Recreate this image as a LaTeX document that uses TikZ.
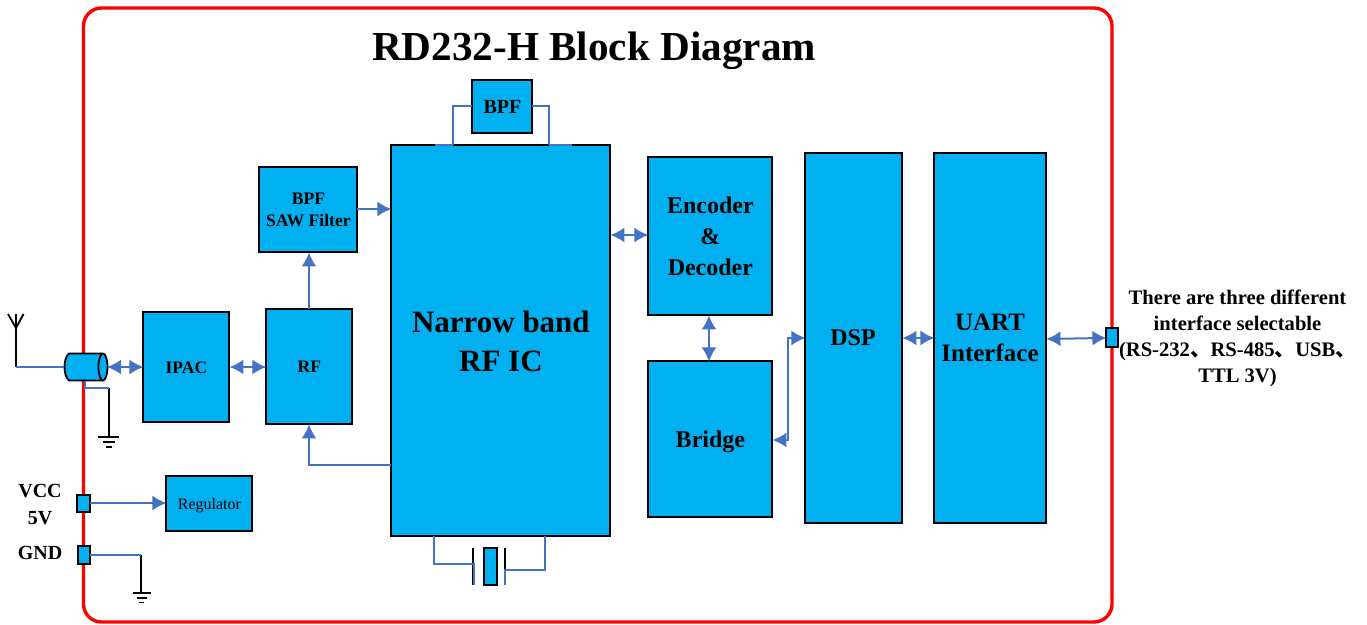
\documentclass[tikz,border=0pt]{standalone}
\usepackage{fontspec}
\setmainfont{Liberation Serif}
\newfontfamily\cjk{Noto Sans CJK SC}
\usetikzlibrary{arrows.meta,calc}
\definecolor{blk}{HTML}{00B0F0}
\definecolor{wire}{HTML}{4472C4}
\tikzset{
  block/.style={draw=black,line width=2pt,fill=blk,inner sep=0pt,outer sep=0pt,align=center,font=\bfseries},
  wireline/.style={draw=wire,line width=2pt},
  arr/.style={wireline,-{Latex[length=14pt,width=15pt]}},
  darr/.style={wireline,{Latex[length=14pt,width=15pt]}-{Latex[length=14pt,width=15pt]}},
  blackline/.style={draw=black,line width=1.8pt},
  label/.style={inner sep=0pt,align=center},
  fs/.style n args={2}{font=\bfseries\fontsize{#1}{#2}\selectfont},
}
\newcommand{\boxnode}[7]{% name, x0,y0,x1,y1, font opts, text
  \node[block,#6,minimum width={#4pt-#2pt},minimum height={#5pt-#3pt},anchor=north west] (#1) at (#2+0.4,#3+0.4) {#7};}
\begin{document}
\begin{tikzpicture}[x=1pt,y=-1pt]
\useasboundingbox (0,0) rectangle (1367,624);
\draw[red,line width=3.4pt,rounded corners=18pt] (83.5,8) rectangle (1112,622);
\node[label,fs={41.2}{44}] (title) at (594,51) {RD232-H Block Diagram};

\boxnode{bpf}{472}{80}{532}{133}{fs={20}{22}}{BPF}
\boxnode{saw}{259}{167}{357}{252}{fs={17.6}{22}}{BPF\\SAW Filter}
\boxnode{ic}{391}{145}{610}{536}{fs={31}{39}}{Narrow band\\RF IC}
\boxnode{enc}{648}{157}{772}{315}{fs={24}{31}}{Encoder\\\&\\Decoder}
\boxnode{bridge}{648}{361}{772}{517}{fs={24}{28},text depth=0pt}{Bridge}
\boxnode{dsp}{805}{153}{902}{523}{fs={24}{28}}{}
\boxnode{uart}{934}{153}{1046}{523}{fs={24}{28}}{}
\boxnode{ipac}{143}{312}{229}{422}{fs={17.5}{22}}{IPAC}
\boxnode{rf}{266}{309}{352}{424}{fs={17.5}{22}}{RF}
\boxnode{reg}{166}{476}{252}{531}{font=\normalfont\fontsize{16}{20}\selectfont,text depth=0pt}{Regulator}
\node[label,fs={24}{28}] (dsptxt) at (853,338) {DSP};
\node[label,fs={25}{31}] (uarttxt) at (990,338) {UART\\Interface};

\boxnode{pvcc}{76.5}{495}{90}{512}{}{}
\boxnode{pgnd}{78}{546}{90}{564}{}{}
\boxnode{puart}{1106}{328}{1118}{347}{}{}

% ---- text
\node[label,fs={20}{27}] (vcc) at (40,505) {VCC\\5V};
\node[label,fs={20}{24}] (gnd) at (40,552.5) {GND};
\node[label,fs={20.6}{26}] (iface) at (1237.5,338) {There are three different\\interface selectable\\(RS-232{\cjk 、}RS-485{\cjk 、}USB{\cjk 、}\\TTL 3V)};

% ---- coax
\coordinate (coaxW) at (64,367);
\coordinate (coaxE) at (107,367);
\fill[blk] (69,353.5) -- (103,353.5) arc[start angle=90,end angle=-90,x radius=4.5pt,y radius=13.5pt] -- (69,380.5) .. controls (63,376) and (63,358) .. (69,353.5) -- cycle;
\draw[black,line width=1.8pt] (103,353.5) -- (69,353.5) .. controls (63,358) and (63,376) .. (69,380.5) -- (103,380.5);
\draw[black,line width=1.8pt] (103,367) ++(0,-13.5) arc[start angle=90,end angle=-270,x radius=4.5pt,y radius=13.5pt];

% ---- antenna
\coordinate (antTip) at (16,328);
\coordinate (antFoot) at (16,367);
\draw[blackline] (16,314) -- (antFoot);
\draw[blackline] (8,314) -- (antTip) -- (23.5,314);
\draw[wireline] (antFoot) -- (coaxW);

% ---- coax ground
\coordinate (g1) at (109,387.5);
\coordinate (g1b) at (109,437);
\draw[blackline] (g1) -- (g1b);
\draw[wireline] (84.5,381) |- (g1);
\draw[blackline] (98,437) -- (119,437);
\draw[blackline] (103,442) -- (115,442);
\draw[blackline] (106,447) -- (112,447);

% ---- port ground
\coordinate (g2) at (141,554.5);
\coordinate (g2b) at (141,593);
\draw[blackline] (g2) -- (g2b);
\draw[wireline] (pgnd.east |- g2) -- (g2);
\draw[blackline] (133,593) -- (151,593);
\draw[blackline] (137,598) -- (147,598);
\draw[blackline] (139,602.5) -- (144,602.5);

% ---- connectors
\draw[darr] (coaxE) -- (ipac.west |- 0,367);
\draw[darr] (ipac.east |- 0,367) -- (rf.west |- 0,367);
\draw[arr] (rf.north -| 309,0) -- (saw.south -| 309,0);
\draw[arr] (saw.east |- 0,209) -- (ic.west |- 0,209);
\draw[arr] (ic.west |- 0,465) -| (rf.south -| 309,0);
\draw[darr] (ic.east |- 0,235) -- (enc.west |- 0,235);
\draw[darr] (enc.south -| 709,0) -- (bridge.north -| 709,0);
\draw[darr] (bridge.east |- 0,440) -- (788,440) |- (dsp.west |- 0,338);
\draw[darr] (dsp.east |- 0,338) -- (uart.west |- 0,338);
\draw[darr] (uart.east |- 0,339) -- (puart.west);
\draw[arr] (pvcc.east |- 0,503) -- (reg.west |- 0,503);

% ---- BPF stubs
\draw[wireline] (bpf.west |- 0,106) -| (453,145);
\draw[wireline] (435,145) -- (453,145);
\draw[wireline] (bpf.east |- 0,106) -| (549,145);
\draw[wireline] (549,145) -- (572,145);

% ---- crystal
\coordinate (cryL) at (473.5,563.5);
\coordinate (cryR) at (505,569.5);
\boxnode{xtal}{484}{548}{497}{585}{}{}
\draw[blackline] (473,548) -- (473,585);
\draw[blackline] (505,548) -- (505,585);
\draw[wireline] (433.5,536) |- (cryL) -- (473.5,585);
\draw[wireline] (545,536) |- (cryR) -- (505,585);
\end{tikzpicture}
\end{document}
